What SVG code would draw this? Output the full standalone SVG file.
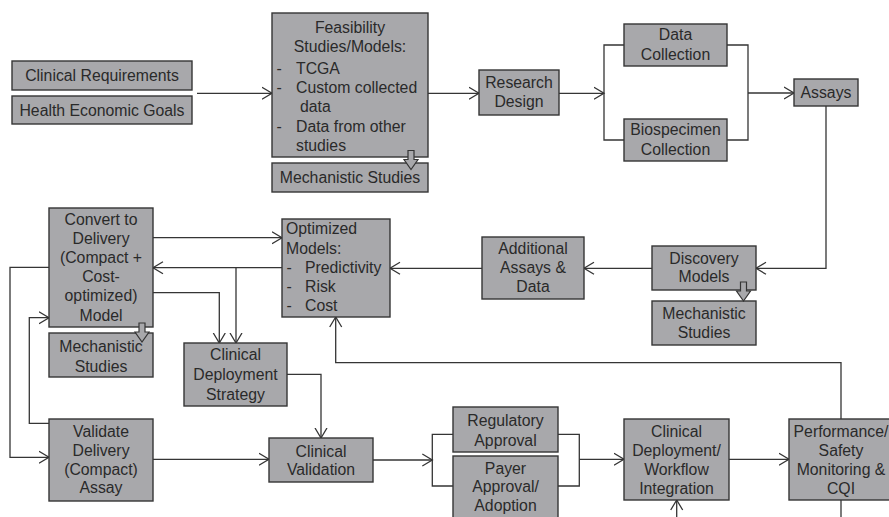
<svg xmlns="http://www.w3.org/2000/svg" xmlns:xlink="http://www.w3.org/1999/xlink" width="889" height="517" viewBox="0 0 889 517">
  <style>
    .box { fill: #a8a8ab; stroke: #353535; stroke-width: 1.4; }
    .t { font-family: "Liberation Sans", Arial, sans-serif; font-size: 15.8px; fill: #2a2a2a; }
    .c { text-anchor: middle; }
    .ln { fill: none; stroke: #353535; stroke-width: 1.3; }
    .ar { marker-end: url(#chev); }
    .blk { fill: #a8a8ab; stroke: #353535; stroke-width: 1.2; }
  </style>
  <defs>
    <marker id="chev" markerWidth="14" markerHeight="16" refX="10.5" refY="7" orient="auto" markerUnits="userSpaceOnUse">
      <path d="M0.5,1 L10.5,7 L0.5,13" fill="none" stroke="#353535" stroke-width="1.3"/>
    </marker>
    <!-- small hollow downward block arrow, origin at top centre -->
    <path id="blk" d="M-3,0 H3 V9 H7 L0,19 L-7,9 H-3 Z"/>
  </defs>
  <rect width="889" height="517" fill="#ffffff"/>

  <g id="connectors">
    <path class="ln ar" d="M197,93.3 H272"/>
    <path class="ln ar" d="M428,93.3 H479"/>
    <path class="ln ar" d="M559,93.3 H604"/>
    <path class="ln" d="M624,45 H604 V140 H624"/>
    <path class="ln" d="M727,45 H748 V140 H727"/>
    <path class="ln ar" d="M748,93 H794"/>
    <path class="ln ar" d="M826,106 V268.3 H756"/>
    <path class="ln ar" d="M652,268.3 H584"/>
    <path class="ln ar" d="M482,268.3 H390"/>
    <path class="ln ar" d="M153,237.7 H282"/>
    <path class="ln ar" d="M282,267.7 H153"/>
    <path class="ln ar" d="M236,267.7 V343"/>
    <path class="ln ar" d="M153,292.7 H219.3 V343"/>
    <path class="ln ar" d="M49,267.3 H10 V457.3 H49"/>
    <path class="ln ar" d="M49,423.3 H29.3 V317.7 H49"/>
    <path class="ln ar" d="M287,374.3 H321 V438"/>
    <path class="ln ar" d="M153,459.3 H269"/>
    <path class="ln ar" d="M373,460 H432.3"/>
    <path class="ln" d="M453,434.3 H432.3 V486 H453"/>
    <path class="ln" d="M558,434.3 H579.3 V486 H558"/>
    <path class="ln ar" d="M579.3,459.3 H624"/>
    <path class="ln ar" d="M729,459.3 H789"/>
    <path class="ln ar" d="M841,419 V362.7 H335.7 V317"/>
    <path class="ln" d="M841,500 V517"/>
    <path class="ln ar" d="M676.7,517 V500"/>
  </g>

  <g id="clinical-requirements">
    <rect class="box" x="12" y="61" width="180" height="29"/>
    <text class="t c" x="102" y="81">Clinical Requirements</text>
  </g>
  <g id="health-economic-goals">
    <rect class="box" x="12" y="96" width="180" height="28"/>
    <text class="t c" x="102" y="115.5">Health Economic Goals</text>
  </g>
  <g id="feasibility">
    <rect class="box" x="272" y="13" width="156" height="144"/>
    <text class="t c" x="350" y="32.5">Feasibility</text>
    <text class="t c" x="350" y="52">Studies/Models:</text>
    <text class="t" x="276.5" y="74">-</text>
    <text class="t" x="296" y="74">TCGA</text>
    <text class="t" x="276.5" y="93">-</text>
    <text class="t" x="296" y="93">Custom collected</text>
    <text class="t" x="300" y="112">data</text>
    <text class="t" x="276.5" y="131.5">-</text>
    <text class="t" x="296" y="131.5">Data from other</text>
    <text class="t" x="296" y="150.5">studies</text>
  </g>
  <g id="mechanistic-top">
    <rect class="box" x="272" y="163" width="156" height="29"/>
    <text class="t c" x="350" y="183">Mechanistic Studies</text>
  </g>
  <g id="research-design">
    <rect class="box" x="479" y="70" width="80" height="45"/>
    <text class="t c" x="519" y="88">Research</text>
    <text class="t c" x="519" y="107.2">Design</text>
  </g>
  <g id="data-collection">
    <rect class="box" x="624" y="24" width="103" height="42"/>
    <text class="t c" x="675.5" y="39.8">Data</text>
    <text class="t c" x="675.5" y="59.5">Collection</text>
  </g>
  <g id="biospecimen-collection">
    <rect class="box" x="624" y="119" width="103" height="42"/>
    <text class="t c" x="675.5" y="134.8">Biospecimen</text>
    <text class="t c" x="675.5" y="154.5">Collection</text>
  </g>
  <g id="assays">
    <rect class="box" x="794" y="79" width="64" height="27"/>
    <text class="t c" x="826" y="98">Assays</text>
  </g>
  <g id="convert-to-delivery">
    <rect class="box" x="49" y="208" width="104" height="119"/>
    <text class="t c" x="101" y="224.8">Convert to</text>
    <text class="t c" x="101" y="243.8">Delivery</text>
    <text class="t c" x="101" y="263.2">(Compact +</text>
    <text class="t c" x="101" y="282.2">Cost-</text>
    <text class="t c" x="101" y="301.2">optimized)</text>
    <text class="t c" x="101" y="320.5">Model</text>
  </g>
  <g id="mechanistic-left">
    <rect class="box" x="49" y="333" width="104" height="44"/>
    <text class="t c" x="101" y="352.2">Mechanistic</text>
    <text class="t c" x="101" y="371.5">Studies</text>
  </g>
  <g id="optimized-models">
    <rect class="box" x="282" y="219" width="108" height="98"/>
    <text class="t" x="286" y="234.3">Optimized</text>
    <text class="t" x="286" y="254">Models:</text>
    <text class="t" x="286.5" y="273">-</text>
    <text class="t" x="305" y="273">Predictivity</text>
    <text class="t" x="286.5" y="292">-</text>
    <text class="t" x="305" y="292">Risk</text>
    <text class="t" x="286.5" y="311">-</text>
    <text class="t" x="305" y="311">Cost</text>
  </g>
  <g id="additional-assays">
    <rect class="box" x="482" y="237" width="102" height="62"/>
    <text class="t c" x="533" y="253.8">Additional</text>
    <text class="t c" x="533" y="273.2">Assays &amp;</text>
    <text class="t c" x="533" y="292.2">Data</text>
  </g>
  <g id="discovery-models">
    <rect class="box" x="652" y="246" width="104" height="44"/>
    <text class="t c" x="704" y="263.8">Discovery</text>
    <text class="t c" x="704" y="282.2">Models</text>
  </g>
  <g id="mechanistic-right">
    <rect class="box" x="652" y="301" width="104" height="44"/>
    <text class="t c" x="704" y="318.8">Mechanistic</text>
    <text class="t c" x="704" y="338.2">Studies</text>
  </g>
  <g id="clinical-deployment-strategy">
    <rect class="box" x="184" y="343" width="103" height="63"/>
    <text class="t c" x="235.5" y="359.8">Clinical</text>
    <text class="t c" x="235.5" y="379.8">Deployment</text>
    <text class="t c" x="235.5" y="399.5">Strategy</text>
  </g>
  <g id="validate-delivery">
    <rect class="box" x="49" y="419" width="104" height="82"/>
    <text class="t c" x="101" y="436.5">Validate</text>
    <text class="t c" x="101" y="455.5">Delivery</text>
    <text class="t c" x="101" y="474.5">(Compact)</text>
    <text class="t c" x="101" y="493.2">Assay</text>
  </g>
  <g id="clinical-validation">
    <rect class="box" x="269" y="438" width="104" height="44"/>
    <text class="t c" x="321" y="456.5">Clinical</text>
    <text class="t c" x="321" y="474.8">Validation</text>
  </g>
  <g id="regulatory-approval">
    <rect class="box" x="453" y="407" width="105" height="45"/>
    <text class="t c" x="505.5" y="426.2">Regulatory</text>
    <text class="t c" x="505.5" y="445.5">Approval</text>
  </g>
  <g id="payer-approval">
    <rect class="box" x="453" y="456" width="105" height="70"/>
    <text class="t c" x="505.5" y="473.8">Payer</text>
    <text class="t c" x="505.5" y="492.2">Approval/</text>
    <text class="t c" x="505.5" y="511.2">Adoption</text>
  </g>
  <g id="clinical-deployment-workflow">
    <rect class="box" x="624" y="419" width="105" height="81"/>
    <text class="t c" x="676.5" y="436.5">Clinical</text>
    <text class="t c" x="676.5" y="455.5">Deployment/</text>
    <text class="t c" x="676.5" y="474.5">Workflow</text>
    <text class="t c" x="676.5" y="493.8">Integration</text>
  </g>
  <g id="performance-monitoring">
    <rect class="box" x="789" y="419" width="105" height="81"/>
    <text class="t c" x="841" y="436.5">Performance/</text>
    <text class="t c" x="841" y="455.5">Safety</text>
    <text class="t c" x="841" y="474.5">Monitoring &amp;</text>
    <text class="t c" x="841" y="493.5">CQI</text>
  </g>

  <g id="mechanistic-links">
    <use xlink:href="#blk" class="blk" x="411" y="150.5"/>
    <use xlink:href="#blk" class="blk" x="142" y="323"/>
    <use xlink:href="#blk" class="blk" x="743.5" y="282"/>
  </g>
</svg>
